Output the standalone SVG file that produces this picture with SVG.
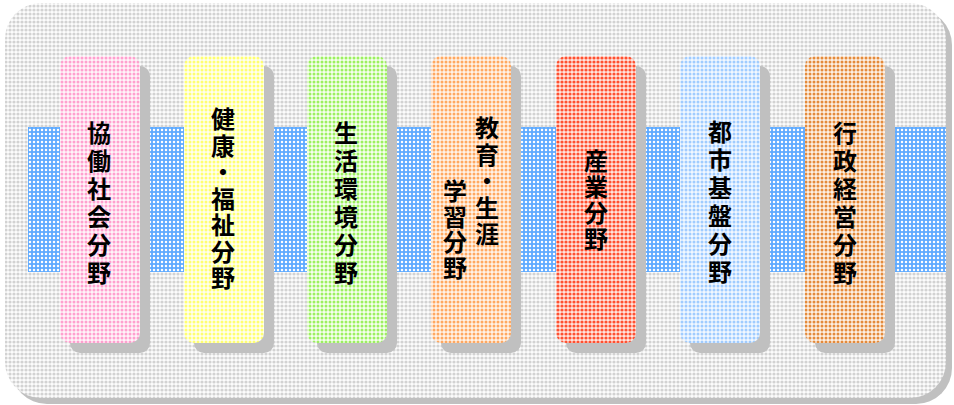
<svg xmlns="http://www.w3.org/2000/svg" width="954" height="405" viewBox="0 0 954 405">
<defs>
<style>
.t{font-family:"Noto Sans CJK JP","Noto Sans CJK SC",sans-serif;font-weight:bold;font-size:24px;fill:#000;writing-mode:vertical-rl}
.sh{fill:#c0c0c0}
</style>
<pattern id="pg" width="4" height="4" patternUnits="userSpaceOnUse"><rect width="4" height="4" fill="#fdfdfd"/><circle cx="2" cy="2" r="1.6" fill="#d2d2d2"/></pattern>
<pattern id="pb" width="4" height="4" patternUnits="userSpaceOnUse"><rect width="4" height="4" fill="#5eaaff"/><circle cx="2" cy="2" r="1.25" fill="#ffffff"/></pattern>
<pattern id="p1" width="4" height="4" patternUnits="userSpaceOnUse"><rect width="4" height="4" fill="#fff4f9"/><circle cx="2" cy="2" r="1.5" fill="#ffa0cf"/></pattern>
<pattern id="p2" width="4" height="4" patternUnits="userSpaceOnUse"><rect width="4" height="4" fill="#fffff0"/><circle cx="2" cy="2" r="1.5" fill="#ffff70"/></pattern>
<pattern id="p3" width="4" height="4" patternUnits="userSpaceOnUse"><rect width="4" height="4" fill="#f6ffee"/><circle cx="2" cy="2" r="1.5" fill="#9cf060"/></pattern>
<pattern id="p4" width="4" height="4" patternUnits="userSpaceOnUse"><rect width="4" height="4" fill="#fff3e8"/><circle cx="2" cy="2" r="1.5" fill="#ffa860"/></pattern>
<pattern id="p5" width="4" height="4" patternUnits="userSpaceOnUse"><rect width="4" height="4" fill="#ffe6e0"/><circle cx="2" cy="2" r="1.6" fill="#ff5030"/></pattern>
<pattern id="p6" width="4" height="4" patternUnits="userSpaceOnUse"><rect width="4" height="4" fill="#f2f8ff"/><circle cx="2" cy="2" r="1.5" fill="#a0ccff"/></pattern>
<pattern id="p7" width="4" height="4" patternUnits="userSpaceOnUse"><rect width="4" height="4" fill="#fdf0e4"/><circle cx="2" cy="2" r="1.5" fill="#e48a3a"/></pattern>
</defs>

<g id="frame">
<rect x="11" y="9" width="941" height="395" rx="36" class="sh"/>
<rect x="5" y="3" width="941" height="395" rx="36" fill="url(#pg)"/>
</g>

<g id="band">
<rect x="28" y="127" width="918" height="145" fill="url(#pb)"/>
</g>

<g id="node1">
<rect x="70" y="66" width="80" height="287" rx="10" class="sh"/>
<rect x="60" y="56" width="80" height="287" rx="10" fill="url(#p1)"/>
<text class="t" x="99" y="121" letter-spacing="4">協働社会分野</text>
</g>

<g id="node2">
<rect x="194" y="66" width="80" height="287" rx="10" class="sh"/>
<rect x="184" y="56" width="80" height="287" rx="10" fill="url(#p2)"/>
<text class="t" x="223" y="107" letter-spacing="2.5">健康・福祉分野</text>
</g>

<g id="node3">
<rect x="317" y="66" width="80" height="287" rx="10" class="sh"/>
<rect x="307" y="56" width="80" height="287" rx="10" fill="url(#p3)"/>
<text class="t" x="346" y="121" letter-spacing="4">生活環境分野</text>
</g>

<g id="node4">
<rect x="441" y="66" width="80" height="287" rx="10" class="sh"/>
<rect x="431" y="56" width="80" height="287" rx="10" fill="url(#p4)"/>
<text class="t" x="487" y="116" letter-spacing="2.5">教育・生涯</text>
<text class="t" x="455" y="179" letter-spacing="1.5">学習分野</text>
</g>

<g id="node5">
<rect x="566" y="66" width="80" height="287" rx="10" class="sh"/>
<rect x="556" y="56" width="80" height="287" rx="10" fill="url(#p5)"/>
<text class="t" x="596" y="149" letter-spacing="2">産業分野</text>
</g>

<g id="node6">
<rect x="690" y="66" width="80" height="287" rx="10" class="sh"/>
<rect x="680" y="56" width="80" height="287" rx="10" fill="url(#p6)"/>
<text class="t" x="720" y="120" letter-spacing="4">都市基盤分野</text>
</g>

<g id="node7">
<rect x="815" y="66" width="80" height="287" rx="10" class="sh"/>
<rect x="805" y="56" width="80" height="287" rx="10" fill="url(#p7)"/>
<text class="t" x="845" y="121" letter-spacing="4">行政経営分野</text>
</g>

<g id="connectors"></g>
</svg>
